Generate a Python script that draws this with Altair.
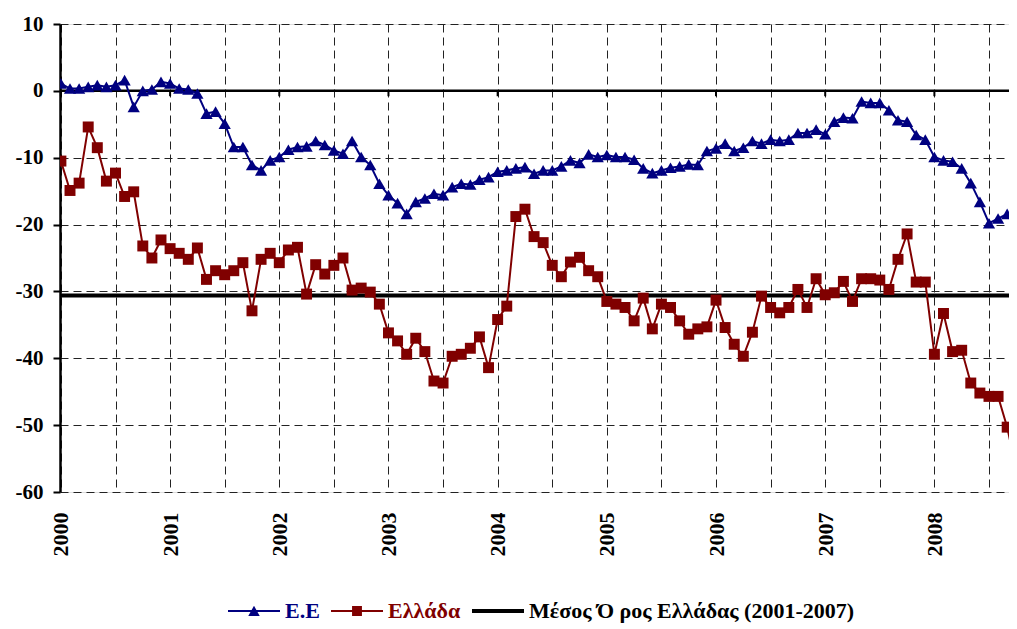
import altair as alt
import pandas as pd

# ---------------- data ----------------
start_year = 2000
years = [2000, 2001, 2002, 2003, 2004, 2005, 2006, 2007, 2008]

ee_values = [
    1.1, 0.35, 0.35, 0.6, 0.85, 0.6, 0.85, 1.6, -2.4, 0.0, 0.2, 1.35,
    1.1, 0.35, 0.2, -0.4, -3.4, -3.1, -4.9, -8.4, -8.4, -11.1, -11.9, -10.4,
    -9.9, -8.8, -8.4, -8.3, -7.5, -8.1, -8.9, -9.4, -7.5, -9.9, -11.1, -13.9,
    -15.6, -16.8, -18.4, -16.6, -16.1, -15.4, -15.6, -14.4, -13.9, -14.0, -13.3, -12.9,
    -12.1, -11.9, -11.6, -11.4, -12.4, -11.9, -11.9, -11.3, -10.4, -10.8, -9.5, -9.9,
    -9.6, -9.9, -9.9, -10.3, -11.6, -12.3, -11.9, -11.5, -11.3, -11.0, -11.1, -9.0,
    -8.6, -7.9, -9.0, -8.5, -7.5, -7.9, -7.3, -7.5, -7.3, -6.3, -6.3, -5.8,
    -6.5, -4.6, -4.0, -4.1, -1.6, -1.8, -1.8, -2.9, -4.4, -4.6, -6.6, -7.3,
    -9.9, -10.4, -10.6, -11.6, -13.8, -16.6, -19.8, -19.1, -18.4, -21.0,
]

greece_values = [
    -10.5, -14.9, -13.8, -5.4, -8.5, -13.5, -12.3, -15.8, -15.1, -23.2, -25.0, -22.3,
    -23.6, -24.3, -25.2, -23.5, -28.2, -26.9, -27.5, -26.9, -25.7, -32.9, -25.2, -24.3,
    -25.7, -23.8, -23.4, -30.4, -26.0, -27.4, -26.1, -25.0, -29.8, -29.5, -30.1, -31.9,
    -36.2, -37.4, -39.4, -37.0, -39.0, -43.4, -43.7, -39.7, -39.4, -38.5, -36.8, -41.4,
    -34.2, -32.2, -18.8, -17.7, -21.8, -22.7, -26.1, -27.8, -25.6, -24.9, -26.9, -27.8,
    -31.5, -31.9, -32.4, -34.4, -31.0, -35.6, -31.9, -32.4, -34.4, -36.4, -35.6, -35.3,
    -31.3, -35.4, -37.9, -39.7, -36.1, -30.7, -32.4, -33.2, -32.4, -29.7, -32.4, -28.1,
    -30.5, -30.2, -28.5, -31.5, -28.1, -28.1, -28.3, -29.7, -25.2, -21.4, -28.6, -28.6,
    -39.4, -33.3, -39.0, -38.8, -43.7, -45.2, -45.7, -45.7, -50.3, -56.7,
]

greece_mean = -30.6

series_names = ["E.E", "Ελλάδα", "Μέσος Ό ρος Ελλάδας (2001-2007)"]
series_colors = ["#000080", "#800000", "#000000"]

y_ticks = [10, 0, -10, -20, -30, -40, -50, -60]

# ---------------- tables ----------------
n = len(ee_values)
months = list(range(n))
df = pd.DataFrame({
    "m": months + months,
    "v": ee_values + greece_values,
    "s": [series_names[0]] * n + [series_names[1]] * n,
})
year_months = [(y - start_year) * 12 for y in years]
grid_months = list(range(0, year_months[-1] + 7, 6))
zero_df = pd.DataFrame({"v": [0]})
mean_df = pd.DataFrame({"v": [greece_mean]})
tick_df = pd.DataFrame({"m": year_months, "v": [0] * len(year_months), "v2": [-0.8] * len(year_months)})

# ---------------- scales / axes ----------------
FONT = "Liberation Serif"
xscale = alt.Scale(domain=[-0.1, 104.2], nice=False, zero=False)
yscale = alt.Scale(domain=[-60, 10], nice=False, zero=False)

xaxis = alt.Axis(
    values=grid_months,
    labelExpr=f"datum.value % 12 == 0 ? toString({start_year} + datum.value / 12) : ''",
    labelAngle=270, labelFont=FONT, labelFontWeight="bold", labelFontSize=22,
    labelColor="black", labelPadding=20, labelOverlap=False, labelFlush=False,
    domain=False, ticks=False, grid=True, gridDash=[8, 5], gridColor="#222222",
    gridWidth=1, title=None,
)
yaxis = alt.Axis(
    values=y_ticks, labelExpr="toString(datum.value)",
    labelFont=FONT, labelFontWeight="bold", labelFontSize=21, labelColor="black",
    labelPadding=10, domain=True, domainColor="black", domainWidth=2.5,
    ticks=True, tickColor="black", tickWidth=2, tickSize=7,
    grid=True, gridDash=[8, 5], gridColor="#222222", gridWidth=1, title=None,
)

X = alt.X("m:Q", scale=xscale, axis=xaxis)
Y = alt.Y("v:Q", scale=yscale, axis=yaxis)

# ---------------- layers ----------------
zero_rule = alt.Chart(zero_df).mark_rule(color="black", strokeWidth=2.5).encode(y=Y)
year_ticks = alt.Chart(tick_df).mark_rule(color="black", strokeWidth=2).encode(x=X, y=Y, y2="v2:Q")
mean_rule = alt.Chart(mean_df).mark_rule(color="black", strokeWidth=4).encode(y=Y)

lines = alt.Chart(df).mark_line(strokeWidth=2, clip=True).encode(
    x=X, y=Y,
    stroke=alt.Stroke("s:N", scale=alt.Scale(domain=series_names[:2], range=series_colors[:2]), legend=None),
)

pts_ee = alt.Chart(df).transform_filter(alt.datum.s == series_names[0]).mark_point(
    shape="triangle-up", filled=True, size=150, opacity=1, color=series_colors[0], clip=True
).encode(x=X, y=Y)

pts_gr = alt.Chart(df).transform_filter(alt.datum.s == series_names[1]).mark_point(
    shape="square", filled=True, size=120, opacity=1, color=series_colors[1], clip=True
).encode(x=X, y=Y)

legend_shapes = [
    "M-1,-0.035L1,-0.035L1,0.035L-1,0.035Z M-0.22,0.19L0,-0.2L0.22,0.19Z",
    "M-1,-0.035L1,-0.035L1,0.035L-1,0.035Z M-0.19,-0.19L0.19,-0.19L0.19,0.19L-0.19,0.19Z",
    "M-1,-0.075L1,-0.075L1,0.075L-1,0.075Z",
]
label_color_expr = (
    f"datum.label == '{series_names[0]}' ? '{series_colors[0]}' : "
    f"datum.label == '{series_names[1]}' ? '{series_colors[1]}' : '{series_colors[2]}'"
)
legend = alt.Legend(
    title=None, orient="none", legendX=168, legendY=561, direction="horizontal",
    symbolSize=2704, symbolStrokeWidth=0, labelOffset=5, columnPadding=11,
    labelFont=FONT, labelFontSize=22, labelFontWeight="bold", labelLimit=600,
    labelColor={"expr": label_color_expr}, padding=0,
)
legend_layer = alt.Chart(df).transform_filter("false").mark_point(filled=True, opacity=1).encode(
    x=X, y=Y,
    color=alt.Color("s:N", scale=alt.Scale(domain=series_names, range=series_colors), legend=legend),
    shape=alt.Shape("s:N", scale=alt.Scale(domain=series_names, range=legend_shapes), legend=legend),
)

chart = alt.layer(
    zero_rule, year_ticks, mean_rule, lines, pts_ee, pts_gr, legend_layer
).properties(
    width=949, height=468,
    padding={"left": 52, "top": 16, "right": 0, "bottom": 132},
    autosize=alt.AutoSizeParams(type="none"),
    background="white",
).configure_view(stroke=None).configure(font=FONT)

chart.save("out.html", embed_options={"renderer": "svg", "actions": False})
